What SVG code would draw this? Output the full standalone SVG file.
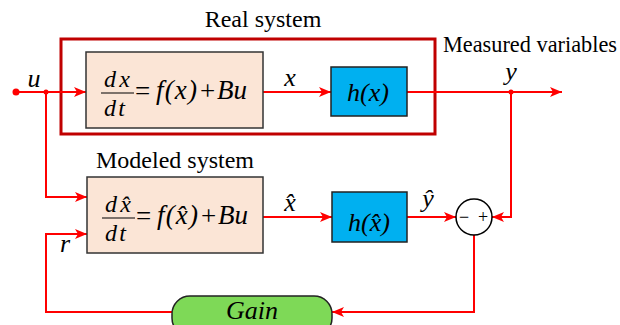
<svg xmlns="http://www.w3.org/2000/svg" width="620" height="325" viewBox="0 0 620 325" font-family="Liberation Serif, serif">
<defs>
<marker id="ah" viewBox="0 0 12 10" refX="12" refY="5" markerWidth="12" markerHeight="10" markerUnits="userSpaceOnUse" orient="auto">
<path d="M0,0 L12,5 L0,10 L3,5 Z" fill="#FF0000"/>
</marker>
</defs>
<style>
.m{font-style:italic;font-size:26px}
.eq{font-style:italic;font-size:27px}
.fr{font-style:italic;font-size:24px}
.n{font-style:normal}
.pink{fill:#FBE5D6;stroke:#333;stroke-width:1.5}
.blue{fill:#00B0F0;stroke:#222;stroke-width:1.5}
.bar{stroke:#000;stroke-width:1.2}
</style>
<rect width="620" height="325" fill="#fff"/>
<g id="real-system">
<rect x="61" y="39" width="374" height="95" fill="none" stroke="#C00000" stroke-width="3"/>
<text x="263" y="27" font-size="24" text-anchor="middle">Real system</text>
</g>
<g id="measured-label">
<text x="443" y="52" font-size="22.3">Measured variables</text>
</g>
<g id="connectors" fill="none" stroke="#FF0000" stroke-width="2" marker-end="url(#ah)">
<path d="M16,92 H86"/>
<path d="M263,92 H331"/>
<path d="M407,92 H562"/>
<path d="M46,92 V197 H87"/>
<path d="M172,312 H46 V234 H87"/>
<path d="M263,217 H332"/>
<path d="M407,217 H456"/>
<path d="M511,92 V217 H492"/>
<path d="M474,235 V312 H332"/>
</g>
<g id="junctions" fill="#FF0000">
<circle cx="16" cy="92" r="3.5"/>
<circle cx="46" cy="92" r="2.5"/>
<circle cx="511" cy="92" r="2.5"/>
</g>
<g id="signal-labels" text-anchor="middle">
<text class="m" x="34" y="87">u</text>
<text class="m" x="290" y="86">x</text>
<text class="m" x="511" y="80">y</text>
<text class="m" x="290" y="211">x&#x302;</text>
<text class="m" x="428" y="207">y&#x302;</text>
<text class="m" x="65" y="252">r</text>
</g>
<g id="plant">
<rect class="pink" x="86" y="52" width="177" height="76"/>
<text class="fr" x="104" y="87" textLength="26" lengthAdjust="spacing">dx</text>
<line class="bar" x1="101" y1="93" x2="134" y2="93"/>
<text class="fr" x="104" y="116" textLength="21" lengthAdjust="spacing">dt</text>
<text class="eq n" x="135" y="100">=</text>
<text class="eq" x="156" y="99" textLength="41" lengthAdjust="spacing">f(x)</text>
<text class="eq n" x="200" y="100">+</text>
<text class="eq" x="217" y="99">Bu</text>
</g>
<g id="h-real">
<rect class="blue" x="331" y="67" width="76" height="49"/>
<text class="m" x="368" y="101" text-anchor="middle">h(x)</text>
</g>
<g id="model">
<text x="175" y="168" font-size="24" text-anchor="middle">Modeled system</text>
<rect class="pink" x="87" y="177" width="176" height="76"/>
<text class="fr" x="105" y="212" textLength="26" lengthAdjust="spacing">dx&#x302;</text>
<line class="bar" x1="102" y1="218" x2="135" y2="218"/>
<text class="fr" x="105" y="241" textLength="21" lengthAdjust="spacing">dt</text>
<text class="eq n" x="136" y="225">=</text>
<text class="eq" x="157" y="224" textLength="41" lengthAdjust="spacing">f(x&#x302;)</text>
<text class="eq n" x="201" y="225">+</text>
<text class="eq" x="218" y="224">Bu</text>
</g>
<g id="h-model">
<rect class="blue" x="332" y="192" width="75" height="50"/>
<text class="m" x="369" y="231" text-anchor="middle">h(x&#x302;)</text>
</g>
<g id="sum">
<circle cx="474" cy="217" r="18" fill="#fff" stroke="#000" stroke-width="1.5"/>
<text x="464" y="223" font-size="18" text-anchor="middle">−</text>
<text x="483" y="223" font-size="18" text-anchor="middle">+</text>
</g>
<g id="gain">
<rect x="172" y="296" width="160" height="40" rx="18" ry="18" fill="#7ED957" stroke="#222" stroke-width="1.5"/>
<text class="m" x="252" y="319" text-anchor="middle">Gain</text>
</g>
</svg>
